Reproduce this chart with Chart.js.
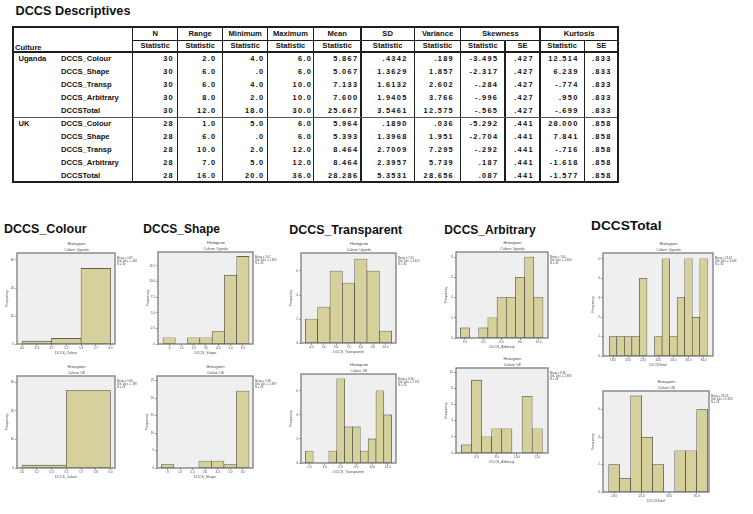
<!DOCTYPE html>
<html><head><meta charset="utf-8"><title>DCCS Descriptives</title>
<script src="https://cdn.jsdelivr.net/npm/chart.js@4.4.1/dist/chart.umd.min.js"></script>
<style>
html,body{margin:0;padding:0;background:#fff}
body{position:relative;width:753px;height:514px;overflow:hidden;font-family:"Liberation Sans",Arial,Helvetica,sans-serif;color:#111}
.a{position:absolute;white-space:nowrap}
.ln{position:absolute;background:#1e1e1e}
canvas{position:absolute}
</style></head><body>
<script>
// ================= TABLE DATA =================
const cultures = ['Uganda', 'UK'];
const variables = ['DCCS_Colour', 'DCCS_Shape', 'DCCS_Transp', 'DCCS_Arbitrary', 'DCCSTotal'];
const headTop = ['N', 'Range', 'Minimum', 'Maximum', 'Mean', 'SD', 'Variance', 'Skewness', 'Kurtosis'];
const headSub = ['Statistic', 'Statistic', 'Statistic', 'Statistic', 'Statistic', 'Statistic', 'Statistic', 'Statistic', 'SE', 'Statistic', 'SE'];
const statN      = [30, 30, 30, 30, 30, 28, 28, 28, 28, 28];
const statRange  = [2, 6, 6, 8, 12, 1, 6, 10, 7, 16];
const statMin    = [4, 0, 4, 2, 18, 5, 0, 2, 5, 20];
const statMax    = [6, 6, 10, 10, 30, 6, 6, 12, 12, 36];
const statMean   = [5.867, 5.067, 7.133, 7.600, 25.667, 5.964, 5.393, 8.464, 8.464, 28.286];
const statSD     = [0.4342, 1.3629, 1.6132, 1.9405, 3.5461, 0.1890, 1.3968, 2.7009, 2.3957, 5.3531];
const statVar    = [0.189, 1.857, 2.602, 3.766, 12.575, 0.036, 1.951, 7.295, 5.739, 28.656];
const statSkew   = [-3.495, -2.317, -0.284, -0.996, -0.565, -5.292, -2.704, -0.292, 0.187, 0.087];
const statSkewSE = [0.427, 0.427, 0.427, 0.427, 0.427, 0.441, 0.441, 0.441, 0.441, 0.441];
const statKurt   = [12.514, 6.239, -0.774, 0.950, -0.699, 28.000, 7.841, -0.716, -1.618, -1.577];
const statKurtSE = [0.833, 0.833, 0.833, 0.833, 0.833, 0.858, 0.858, 0.858, 0.858, 0.858];

// ================= HISTOGRAM DATA =================
const histTitles = ['DCCS_Colour', 'DCCS_Shape', 'DCCS_Transparent', 'DCCS_Arbitrary', 'DCCSTotal'];
// frequencies per bin (bins listed left to right)
const colourUgCounts = [1, 2, 27];
const colourUkCounts = [1, 27];
const shapeUgCounts  = [1, 0, 1, 1, 2, 11, 14];
const shapeUkCounts  = [1, 0, 0, 2, 2, 1, 22];
const transpUgCounts = [2, 3, 6, 5, 7, 6, 1];
const transpUkCounts = [1, 0, 0, 1, 7, 3, 3, 1, 2, 6, 4];
const arbUgCounts    = [1, 0, 1, 2, 4, 4, 6, 8, 4];
const arbUkCounts    = [1, 9, 2, 3, 3, 0, 7, 3];
const totalUgCounts  = [1, 1, 1, 1, 4, 0, 1, 5, 1, 3, 5, 2, 5];
const totalUkCounts  = [2, 1, 7, 4, 2, 0, 3, 3, 6];
// bin start and bin width (value units)
const colourUgBins = [4, 2 / 3];
const colourUkBins = [5, 0.5];
const shapeUgBins  = [-0.5, 1];
const shapeUkBins  = [-0.5, 1];
const transpUgBins = [3.5, 1];
const transpUkBins = [1.5, 1];
const arbUgBins    = [1.5, 1];
const arbUkBins    = [4.5, 1];
const totalUgBins  = [17.5, 1];
const totalUkBins  = [19, 2];
// tick labels
const colourUgXTicks = [4.0, 4.333, 4.667, 5.0, 5.333, 5.667, 6.0];
const colourUkXTicks = [5.0, 5.167, 5.333, 5.5, 5.667, 5.833, 6.0];
const shapeXTicks    = [0, 1, 2, 3, 4, 5, 6];
const transpUgXTicks = [4, 5, 6, 7, 8, 9, 10];
const transpUkXTicks = [2, 4, 6, 8, 10, 12];
const arbUgXTicks    = [2, 4, 6, 8, 10];
const arbUkXTicks    = [6, 8, 10, 12];
const totalUgXTicks  = [18, 20, 22, 24, 26, 28, 30];
const totalUkXTicks  = [20, 25, 30, 35];
const colourYTicks   = [0, 10, 20, 30];
const shapeUgYTicks  = [0, 2.5, 5, 7.5, 10, 12.5];
const shapeUkYTicks  = [0, 5, 10, 15, 20, 25];
const transpYTicks   = [0, 2, 4, 6];
const arbUgYTicks    = [0, 2, 4, 6, 8];
const arbUkYTicks    = [0, 2, 4, 6, 8, 10];
const totalUgYTicks  = [0, 1, 2, 3, 4, 5];
const totalUkYTicks  = [0, 2, 4, 6];

// ================= HELPERS =================
function fmtNum(v, d) {
  let s = Math.abs(v).toFixed(d);
  if (d > 0 && s.startsWith('0.')) s = s.slice(1);
  return (v < 0 ? '-' : '') + s;
}
function div(cls, css, text) {
  const e = document.createElement('div');
  e.className = cls;
  e.style.cssText = css;
  if (text !== undefined) e.textContent = text;
  document.body.appendChild(e);
  return e;
}
function hline(x1, x2, y, th, col) { div('ln', `left:${x1}px;top:${y - th / 2}px;width:${x2 - x1}px;height:${th}px;background:${col || '#1e1e1e'}`); }
function vline(x, y1, y2, th, col) { div('ln', `left:${x - th / 2}px;top:${y1}px;width:${th}px;height:${y2 - y1}px;background:${col || '#1e1e1e'}`); }
const TF = 'font-weight:bold;font-size:7.6px;height:12px;line-height:12px;';
function textL(t, x, cy, extra) { div('a', `${TF}left:${x}px;top:${cy - 6}px;${extra || ''}`, t); }
function textC(t, cx, cy, extra) { div('a', `${TF}left:${cx - 50}px;width:100px;text-align:center;top:${cy - 6}px;${extra || ''}`, t); }
function textR(t, xr, cy, extra) { div('a', `${TF}left:${xr - 60}px;width:60px;text-align:right;top:${cy - 6}px;${extra || ''}`, t); }

// ================= TITLE + TABLE =================
div('a', 'left:15.5px;top:4.6px;font-weight:bold;font-size:12.7px;line-height:12.7px', 'DCCS Descriptives');

const colEdges = [12.7, 58, 132.7, 177.7, 222.7, 267.7, 313.3, 361, 414.3, 460.7, 505, 540, 584.3, 618.3];
const tTop = 26.7, tH1 = 40, tH2 = 52.3, rowH = 13, tBot = tH2 + rowH * 10;

// header texts
const topSpans = [[2, 3], [3, 4], [4, 5], [5, 6], [6, 7], [7, 8], [8, 9], [9, 11], [11, 13]];
headTop.forEach((h, i) => {
  const [a, b] = topSpans[i];
  textC(h, (colEdges[a] + colEdges[b]) / 2, (tTop + tH1) / 2 + 0.3);
});
headSub.forEach((h, i) => {
  textC(h, (colEdges[i + 2] + colEdges[i + 3]) / 2, (tH1 + tH2) / 2 + 0.2);
});
textL('Culture', 15, 47.6);

// body
const cols = [[statN, 0], [statRange, 1], [statMin, 1], [statMax, 1], [statMean, 3], [statSD, 4], [statVar, 3], [statSkew, 3], [statSkewSE, 3], [statKurt, 3], [statKurtSE, 3]];
const rightPad = [5, 7.5, 4.5, 2.5, 4, 8, 8, 8, 7.5, 7, 8];
for (let r = 0; r < 10; r++) {
  const cy = tH2 + rowH * (r + 0.5) + 0.3;
  if (r % 5 === 0) textL(cultures[r / 5], 18.5, cy);
  textL(variables[r % 5], 61, cy);
  cols.forEach(([arr, d], c) => {
    textR(fmtNum(arr[r], d), colEdges[c + 3] - rightPad[c] + 1.3, cy, 'letter-spacing:1.3px;font-size:7.4px');
  });
}
// lines
for (let i = 2; i < colEdges.length - 1; i++) {
  const y1 = (i === 10 || i === 12) ? tH1 : tTop;
  vline(colEdges[i], y1, tBot, i === 2 ? 1.4 : 1.1);
}
hline(colEdges[2], colEdges[13], tH1, 1);
hline(colEdges[0], colEdges[13], tH2, 1.8);
hline(colEdges[0], colEdges[13], tH2 + rowH * 5, 1.2, '#555');
// outer border
hline(colEdges[0] - 1, colEdges[13] + 1, tTop, 2);
hline(colEdges[0] - 1, colEdges[13] + 1, tBot, 2);
vline(colEdges[0], tTop, tBot, 2);
vline(colEdges[13], tTop, tBot, 2);

// ================= SECTION TITLES =================
const secTitlePos = [[4, 223.2, 12.5], [143.3, 222.6, 12], [289.3, 224.3, 12.4], [444.3, 223.6, 12], [591, 219.3, 13.7]];
histTitles.forEach((t, i) => {
  const [x, y, f] = secTitlePos[i];
  div('a', `left:${x}px;top:${y}px;font-weight:bold;font-size:${f}px;line-height:${f}px;color:#111`, t);
});

// ================= HISTOGRAMS =================
Chart.defaults.font.family = "'Liberation Sans', Arial, sans-serif";
const BAR = '#d5d09c';
const TXT = '#4a4a4a';

function histogram(o) {
  const L = Math.round(o.frame[0]), T = Math.round(o.frame[1]), R = Math.round(o.frame[2]), B = Math.round(o.frame[3]);
  const padL = 17, padT = 13, padR = 38, padB = 13;
  const cv = document.createElement('canvas');
  cv.width = R - L + padL + padR;
  cv.height = B - T + padT + padB;
  cv.style.left = (L - padL) + 'px';
  cv.style.top = (T - padT) + 'px';
  document.body.appendChild(cv);
  const [bStart, bWidth] = o.bins;
  const centers = o.counts.map((c, i) => bStart + (i + 0.5) * bWidth);
  const k = o.idx;
  const statLines = ['Mean = ' + fmtNum(statMean[k], 2), 'Std. Dev. = ' + fmtNum(statSD[k], 3), 'N = ' + statN[k]];
  const deco = {
    id: 'deco',
    beforeDraw(chart) {
      const { ctx, chartArea: a } = chart;
      ctx.save();
      ctx.fillStyle = '#efefef';
      ctx.fillRect(a.left, a.top, a.right - a.left, a.bottom - a.top);
      ctx.restore();
    },
    afterDraw(chart) {
      const { ctx, chartArea: a } = chart;
      ctx.save();
      ctx.strokeStyle = '#7c7c7c';
      ctx.lineWidth = 1.3;
      ctx.strokeRect(a.left, a.top, a.right - a.left, a.bottom - a.top);
      ctx.fillStyle = TXT;
      ctx.textBaseline = 'middle';
      ctx.textAlign = 'center';
      const cx = (a.left + a.right) / 2 + 10.5;
      ctx.font = "4px 'Liberation Sans', Arial, sans-serif";
      ctx.fillText('Histogram', cx, a.top - 9);
      ctx.font = "3.3px 'Liberation Sans', Arial, sans-serif";
      ctx.fillText('Culture: ' + cultures[o.cult], cx, a.top - 2.6);
      ctx.textAlign = 'left';
      ctx.font = "2.8px 'Liberation Sans', Arial, sans-serif";
      statLines.forEach((s, i) => ctx.fillText(s, a.right + 2, a.top + 5.5 + i * 3));
      ctx.restore();
    }
  };
  new Chart(cv, {
    type: 'bar',
    data: {
      datasets: [{
        data: centers.map((x, i) => ({ x: x, y: o.counts[i] })),
        xAxisID: 'x', yAxisID: 'y',
        backgroundColor: BAR, borderColor: '#3c3c3c', borderWidth: 0.6, borderSkipped: false,
        barPercentage: 1, categoryPercentage: 1
      }]
    },
    options: {
      responsive: false, animation: false, devicePixelRatio: 1,
      layout: { padding: { left: 0, top: padT, right: padR, bottom: 0 } },
      plugins: { legend: { display: false }, tooltip: { enabled: false }, title: { display: false } },
      scales: {
        x: {
          type: 'linear', display: false, min: o.xr[0], max: o.xr[1], offset: false, bounds: 'data',
          grid: { offset: false },
          afterBuildTicks: s => { s.ticks = centers.map(v => ({ value: v })); }
        },
        xt: {
          type: 'linear', position: 'bottom', min: o.xr[0], max: o.xr[1], offset: false, bounds: 'data',
          afterBuildTicks: s => { s.ticks = o.xticks.map(v => ({ value: v })); },
          ticks: { autoSkip: false, maxRotation: 0, font: { size: 3 }, color: TXT, padding: 0.5,
                   callback: (v, i) => fmtNum(o.xticks[i], 1) },
          grid: { drawOnChartArea: false, offset: false, tickLength: 2, color: '#555', lineWidth: 0.6 },
          border: { display: false },
          title: { display: true, text: histTitles[o.var], font: { size: 3.5 }, color: TXT, padding: { top: 0, bottom: 2 } },
          afterFit: s => { s.height = padB; }
        },
        y: {
          type: 'linear', min: 0, max: o.ymax, bounds: 'data',
          afterBuildTicks: s => { s.ticks = o.yticks.map(v => ({ value: v })); },
          ticks: { autoSkip: false, font: { size: 3 }, color: TXT, padding: 1,
                   callback: (v, i) => fmtNum(o.yticks[i], o.ydec) },
          grid: { drawOnChartArea: false, tickLength: 2, color: '#555', lineWidth: 0.6 },
          border: { display: false },
          title: { display: true, text: 'Frequency', font: { size: 3.5 }, color: TXT, padding: { top: 5, bottom: 0 } },
          afterFit: s => { s.width = padL; }
        }
      }
    },
    plugins: [deco]
  });
}

const histCharts = [
  { var: 0, cult: 0, idx: 0, frame: [16.7, 252.7, 114.5, 344.3], counts: colourUgCounts, bins: colourUgBins, xr: [3.887, 6.1], xticks: colourUgXTicks, ymax: 32.5, yticks: colourYTicks, ydec: 0 },
  { var: 0, cult: 1, idx: 5, frame: [16.7, 375.7, 114.5, 468.3], counts: colourUkCounts, bins: colourUkBins, xr: [4.943, 6.051], xticks: colourUkXTicks, ymax: 32.1, yticks: colourYTicks, ydec: 0 },
  { var: 1, cult: 0, idx: 1, frame: [158.3, 252.3, 253.3, 344.3], counts: shapeUgCounts, bins: shapeUgBins, xr: [-0.907, 6.826], xticks: shapeXTicks, ymax: 14.7, yticks: shapeUgYTicks, ydec: 1 },
  { var: 1, cult: 1, idx: 6, frame: [156.7, 376, 253.3, 468], counts: shapeUkCounts, bins: shapeUkBins, xr: [-0.843, 6.817], xticks: shapeXTicks, ymax: 26.3, yticks: shapeUkYTicks, ydec: 0 },
  { var: 2, cult: 0, idx: 2, frame: [300.7, 253.3, 396, 343.3], counts: transpUgCounts, bins: transpUgBins, xr: [3.15, 10.85], xticks: transpUgXTicks, ymax: 7.5, yticks: transpYTicks, ydec: 0 },
  { var: 2, cult: 1, idx: 7, frame: [300.7, 374, 396, 463.3], counts: transpUkCounts, bins: transpUkBins, xr: [0.95, 13.05], xticks: transpUkXTicks, ymax: 7.4, yticks: transpYTicks, ydec: 0 },
  { var: 3, cult: 0, idx: 3, frame: [455.7, 252.3, 548.3, 337.7], counts: arbUgCounts, bins: arbUgBins, xr: [1.03, 11.04], xticks: arbUgXTicks, ymax: 8.5, yticks: arbUgYTicks, ydec: 0 },
  { var: 3, cult: 1, idx: 8, frame: [455.7, 368, 548.3, 452.7], counts: arbUkCounts, bins: arbUkBins, xr: [3.98, 13.06], xticks: arbUkXTicks, ymax: 10.5, yticks: arbUkYTicks, ydec: 0 },
  { var: 4, cult: 0, idx: 4, frame: [602.7, 253.3, 713.3, 355.7], counts: totalUgCounts, bins: totalUgBins, xr: [16.67, 31.25], xticks: totalUgXTicks, ymax: 5.3, yticks: totalUgYTicks, ydec: 0 },
  { var: 4, cult: 1, idx: 9, frame: [603.3, 391, 709, 492.3], counts: totalUkCounts, bins: totalUkBins, xr: [17.97, 37.24], xticks: totalUkXTicks, ymax: 7.36, yticks: totalUkYTicks, ydec: 0 }
];
histCharts.forEach(histogram);
</script>
</body></html>
